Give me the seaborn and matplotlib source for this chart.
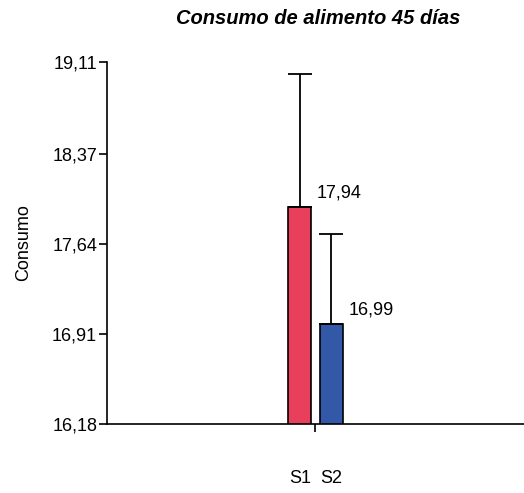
import matplotlib.pyplot as plt
import numpy as np
import pandas as pd
import seaborn as sns

series = ["S1", "S2"]
values = [17.94, 16.99]
err_up = [1.07, 0.73]
colors = ["#E8405C", "#3358A8"]
y_ticks = [16.18, 16.91, 17.64, 18.37, 19.11]
title = "Consumo de alimento 45 días"
ylabel = "Consumo"


def main():
    sns.set_style("white")
    plt.rcParams["font.family"] = ["Liberation Sans", "DejaVu Sans"]
    plt.rcParams["text.color"] = "black"
    plt.rcParams["axes.labelcolor"] = "black"
    plt.rcParams["xtick.color"] = "black"
    plt.rcParams["ytick.color"] = "black"

    df = pd.DataFrame({"grupo": ["g"] * len(series), "serie": series, "valor": values})

    fig = plt.figure(figsize=(5.24, 4.93), dpi=100)
    ax = fig.add_axes([0.204, 0.140, 0.796, 0.734])

    sns.barplot(
        data=df, x="grupo", y="valor", hue="serie", hue_order=series,
        palette=colors, saturation=1, width=0.15, gap=0.26, errorbar=None,
        edgecolor="black", linewidth=1.2, legend=False, ax=ax,
    )

    ax.set_ylim(y_ticks[0], y_ticks[-1])
    ax.set_xlim(-0.5, 0.5)
    ax.set_yticks(y_ticks)
    ax.set_yticklabels([f"{t:.2f}".replace(".", ",") for t in y_ticks], fontsize=13)
    ax.set_xticks([0])
    ax.set_xticklabels([""])
    ax.tick_params(axis="both", direction="out", length=6, width=1.2, color="black",
                   left=True, bottom=True, pad=1)

    for side in ["top", "right"]:
        ax.spines[side].set_visible(False)
    for side in ["left", "bottom"]:
        ax.spines[side].set_color("black")
        ax.spines[side].set_linewidth(1.2)

    bars = [p for p in ax.patches if p.get_height() > 0]
    for bar, v, e, name in zip(bars, values, err_up, series):
        cx = bar.get_x() + bar.get_width() / 2
        ax.errorbar(cx, v, yerr=[[0], [e]], fmt="none", ecolor="black",
                    elinewidth=1.3, capsize=8.5, capthick=1.3, zorder=1)
        ax.annotate(f"{v:.2f}".replace(".", ","), (bar.get_x() + bar.get_width(), v),
                    xytext=(4, 4), textcoords="offset points", fontsize=13,
                    ha="left", va="bottom")
        ax.text(cx, -0.152, name, transform=ax.get_xaxis_transform(),
                ha="center", va="center", fontsize=13)

    ax.set_ylabel(ylabel, fontsize=13, labelpad=14)
    ax.set_xlabel("")
    fig.text(0.607, 0.962, title, ha="center", va="center", fontsize=14.5,
             fontweight="bold", fontstyle="italic")

    fig.savefig("out.png", dpi=100)
    plt.close(fig)


if __name__ == "__main__":
    main()
